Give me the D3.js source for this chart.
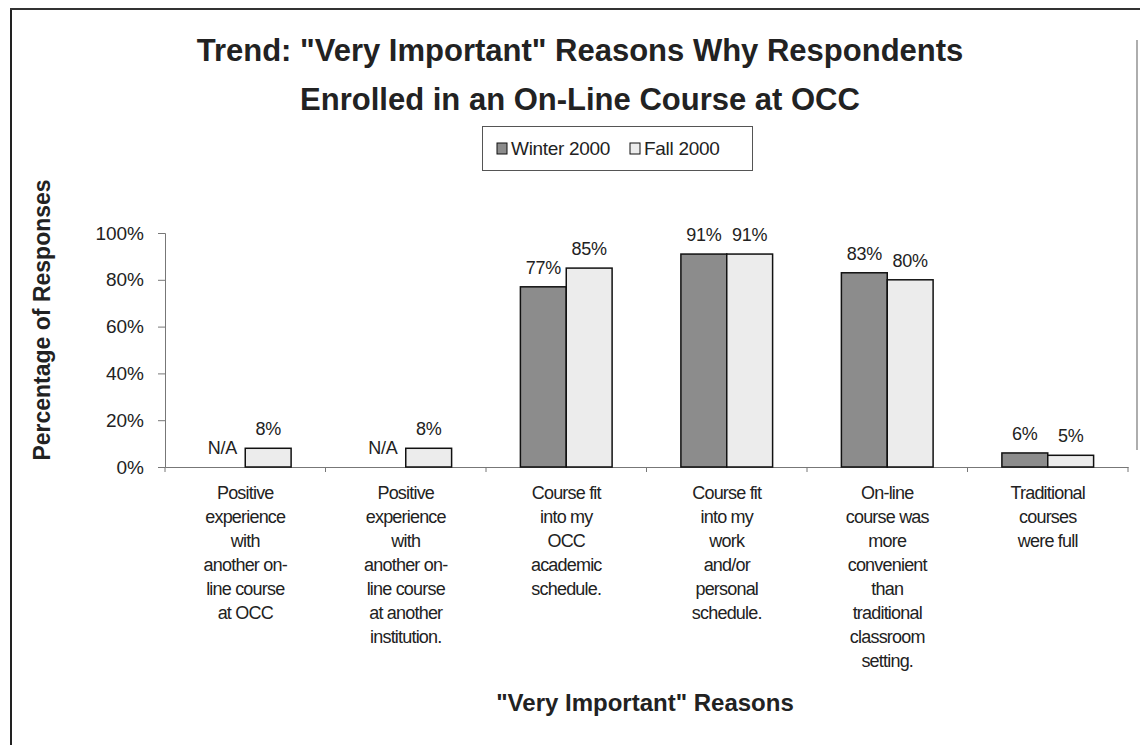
<!DOCTYPE html>
<html>
<head>
<meta charset="utf-8">
<script src="https://cdn.jsdelivr.net/npm/d3@7"></script>
<style>
  html, body { margin: 0; padding: 0; background: #fff; }
  svg { display: block; font-family: "Liberation Sans", Arial, sans-serif; }
</style>
</head>
<body>
<svg id="chart" width="1140" height="745"></svg>
<script>
// ---- data ----
const categories = [
  ["Positive", "experience", "with", "another on-", "line course", "at OCC"],
  ["Positive", "experience", "with", "another on-", "line course", "at another", "institution."],
  ["Course fit", "into my", "OCC", "academic", "schedule."],
  ["Course fit", "into my", "work", "and/or", "personal", "schedule."],
  ["On-line", "course was", "more", "convenient", "than", "traditional", "classroom", "setting."],
  ["Traditional", "courses", "were full"]
];
const seriesNames = ["Winter 2000", "Fall 2000"];
const winter2000 = [null, null, 77, 91, 83, 6];   // null = N/A
const fall2000   = [8, 8, 85, 91, 80, 5];
const yTicks = [0, 20, 40, 60, 80, 100];
const titleLines = ["Trend: \"Very Important\" Reasons Why Respondents", "Enrolled in an On-Line Course at OCC"];
const yTitle = "Percentage of Responses";
const xTitle = "\"Very Important\" Reasons";

// ---- layout ----
const svg = d3.select("#chart");
const colors = { "Winter 2000": "#8c8c8c", "Fall 2000": "#ececec" };
const plot = { left: 165, right: 1128, top: 233, bottom: 467 };

const keys = categories.map((c, i) => "c" + i);
const x0 = d3.scaleBand().domain(keys).range([plot.left, plot.right]).paddingInner(0).paddingOuter(0);
const bw = x0.bandwidth();
const barW = bw / 3.5;
const x1 = d3.scaleBand().domain(seriesNames).range([bw / 2 - barW, bw / 2 + barW]);
const y = d3.scaleLinear().domain([0, 100]).range([plot.bottom, plot.top]);

// frame
svg.append("line").attr("x1", 11).attr("x2", 11).attr("y1", 9).attr("y2", 745)
  .attr("stroke", "#222").attr("stroke-width", 2);
svg.append("line").attr("x1", 10).attr("x2", 1140).attr("y1", 9).attr("y2", 9)
  .attr("stroke", "#333").attr("stroke-width", 2);
svg.append("line").attr("x1", 1137).attr("x2", 1137).attr("y1", 40).attr("y2", 450)
  .attr("stroke", "#777").attr("stroke-width", 1.2);

// title
svg.append("text").attr("x", 580).attr("text-anchor", "middle")
  .attr("font-size", 31).attr("font-weight", "bold").attr("fill", "#222")
  .selectAll("tspan").data(titleLines).join("tspan")
  .attr("x", 580).attr("y", (d, i) => 61 + i * 49).text(d => d);

// legend
const lg = svg.append("g");
lg.append("rect").attr("x", 482.5).attr("y", 126.5).attr("width", 270).attr("height", 44)
  .attr("fill", "#fff").attr("stroke", "#555").attr("stroke-width", 1);
const legendItems = [{ name: "Winter 2000", x: 497 }, { name: "Fall 2000", x: 630 }];
legendItems.forEach(it => {
  lg.append("rect").attr("x", it.x).attr("y", 143).attr("width", 10).attr("height", 11)
    .attr("fill", colors[it.name]).attr("stroke", "#111").attr("stroke-width", 1);
  lg.append("text").attr("x", it.x + 14).attr("y", 155).attr("font-size", 19)
    .attr("fill", "#222").attr("letter-spacing", -0.3).text(it.name);
});

// y axis
const yAxis = d3.axisLeft(y).tickValues(yTicks).tickFormat(d => d + "%").tickSize(7).tickPadding(14);
const yg = svg.append("g").attr("transform", `translate(${plot.left},0)`).call(yAxis);
yg.select(".domain").attr("stroke", "#777");
yg.selectAll(".tick line").attr("stroke", "#777");
yg.selectAll(".tick text").attr("font-size", 19).attr("fill", "#222")
  .attr("font-family", "'Liberation Sans', Arial, sans-serif");

// x axis
const xAxis = d3.axisBottom(x0).tickSize(0).tickFormat("");
const xg = svg.append("g").attr("transform", `translate(0,${plot.bottom})`).call(xAxis);
xg.select(".domain").attr("stroke", "#777");
const bounds = keys.map(k => x0(k)).concat([x0(keys[keys.length - 1]) + bw]);
xg.selectAll(".btick").data(bounds).join("line").attr("class", "btick")
  .attr("x1", d => d).attr("x2", d => d).attr("y1", 0).attr("y2", 5).attr("stroke", "#777");

// bars
const rows = categories.map((c, i) => ({ key: keys[i], vals: [
  { s: "Winter 2000", v: winter2000[i] },
  { s: "Fall 2000", v: fall2000[i] }
]}));
const groups = svg.append("g").selectAll("g").data(rows).join("g")
  .attr("transform", d => `translate(${x0(d.key)},0)`);
groups.selectAll("rect").data(d => d.vals.filter(v => v.v !== null)).join("rect")
  .attr("x", d => x1(d.s)).attr("width", x1.bandwidth())
  .attr("y", d => y(d.v)).attr("height", d => y(0) - y(d.v))
  .attr("fill", d => colors[d.s]).attr("stroke", "#111").attr("stroke-width", 1.5);
groups.selectAll("text.val").data(d => d.vals).join("text").attr("class", "val")
  .attr("x", d => x1(d.s) + x1.bandwidth() / 2)
  .attr("y", d => y(d.v === null ? 0 : d.v) - 13)
  .attr("text-anchor", "middle").attr("font-size", 18).attr("fill", "#222")
  .attr("letter-spacing", -0.3)
  .text(d => d.v === null ? "N/A" : d.v + "%");

// category labels
const cl = svg.append("g").selectAll("text").data(rows).join("text")
  .attr("text-anchor", "middle").attr("font-size", 18).attr("fill", "#222")
  .attr("letter-spacing", -0.8);
cl.selectAll("tspan").data((d, i) => categories[i].map(t => ({ t, cx: x0(d.key) + bw / 2 })))
  .join("tspan").attr("x", d => d.cx).attr("y", (d, i) => 499 + i * 24).text(d => d.t);

// axis titles
svg.append("text").attr("transform", `translate(50,${(plot.top + plot.bottom) / 2 - 30}) rotate(-90)`)
  .attr("text-anchor", "middle").attr("font-size", 23).attr("font-weight", "bold").attr("fill", "#222")
  .text(yTitle);
svg.append("text").attr("x", 645).attr("y", 711).attr("text-anchor", "middle")
  .attr("font-size", 24).attr("font-weight", "bold").attr("fill", "#222").text(xTitle);
</script>
</body>
</html>
